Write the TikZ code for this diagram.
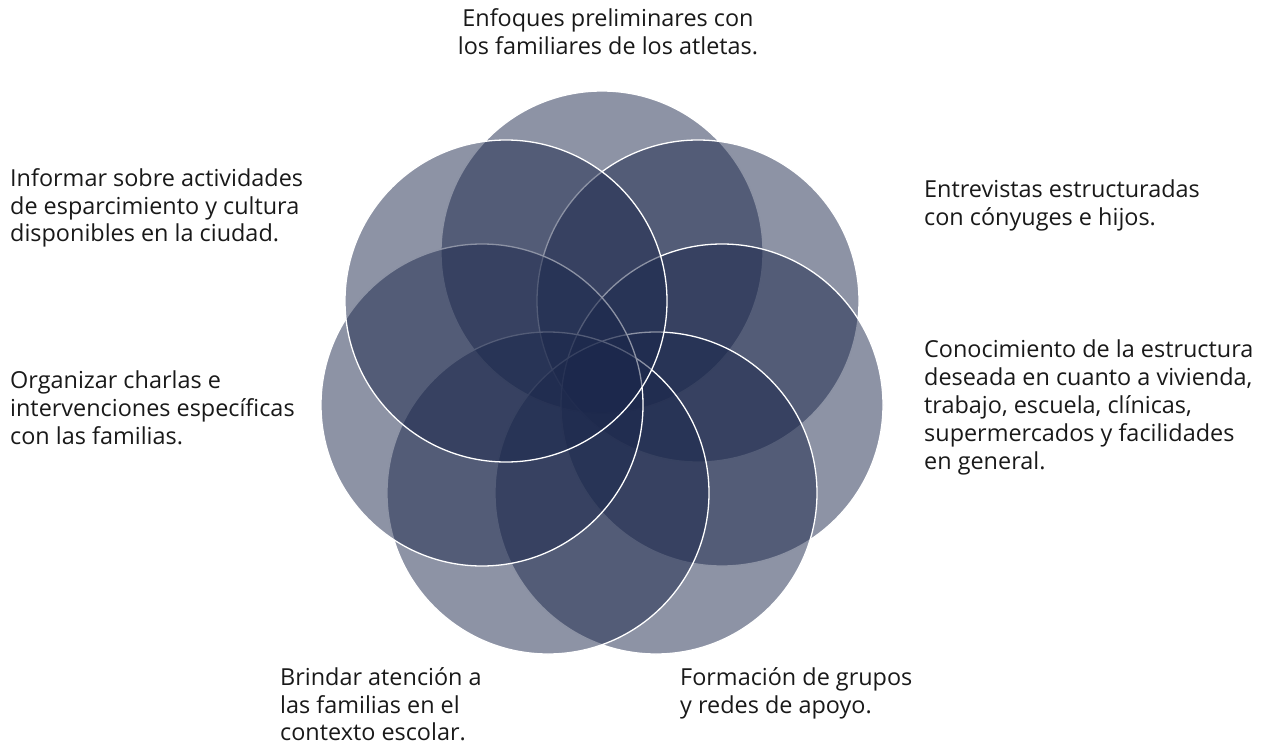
\documentclass[tikz,border=0pt]{standalone}
\usepackage{fontspec}
\setmainfont{Open Sans}
\definecolor{petalblue}{RGB}{27,39,75}
\tikzset{
  petal/.style={circle,draw=white,line width=1.3bp,fill=petalblue,fill opacity=0.5,draw opacity=1,minimum size=322bp,inner sep=0pt},
  txt/.style={inner sep=0pt,align=left,font=\fontsize{23.5}{28}\selectfont,text=black!90}
}
\begin{document}
\begin{tikzpicture}[x=1bp,y=-1bp]
    \useasboundingbox (0,0) rectangle (1270,747);
    %% petals, clockwise from the top
    \node[petal] (enfoques) at (602,252) {};
    \node[petal] (entrevistas) at (698,301) {};
    \node[petal] (conocimiento) at (722,405) {};
    \node[petal] (formacion) at (656,493) {};
    \node[petal] (brindar) at (548,493) {};
    \node[petal] (organizar) at (482,405) {};
    \node[petal] (informar) at (506,301) {};
    %% texts
    \node[txt,align=center,anchor=north] (tenfoques) at (608,8) {Enfoques preliminares con\\los familiares de los atletas.};
    \node[txt,anchor=north west] (tinformar) at (10,168) {Informar sobre actividades\\de esparcimiento y cultura\\disponibles en la ciudad.};
    \node[txt,anchor=north west] (torganizar) at (10,371) {Organizar charlas e\\intervenciones específicas\\con las familias.};
    \node[txt,anchor=north west] (tentrevistas) at (924,180) {Entrevistas estructuradas\\con cónyuges e hijos.};
    \node[txt,anchor=north west] (tconocimiento) at (924,340) {Conocimiento de la estructura\\deseada en cuanto a vivienda,\\trabajo, escuela, clínicas,\\supermercados y facilidades\\en general.};
    \node[txt,anchor=north west] (tbrindar) at (280,667) {Brindar atención a\\las familias en el\\contexto escolar.};
    \node[txt,anchor=north west] (tformacion) at (680,667) {Formación de grupos\\y redes de apoyo.};
\end{tikzpicture}
\end{document}
